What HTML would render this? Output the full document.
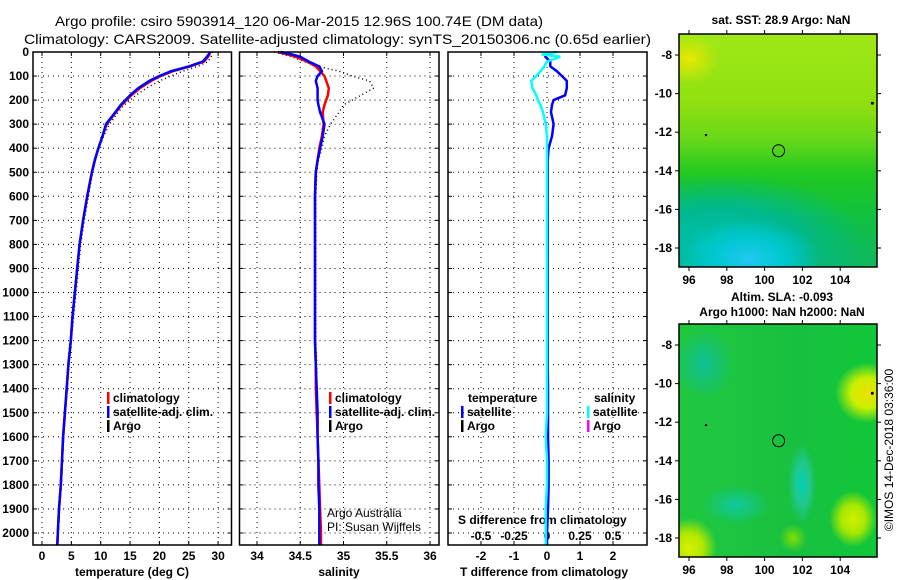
<!DOCTYPE html>
<html><head><meta charset="utf-8"><style>
body{margin:0;background:#fff;width:900px;height:580px;overflow:hidden}
svg text{font-family:"Liberation Sans",sans-serif;font-weight:bold;font-size:12px;fill:#000}
.map{position:absolute;}
</style></head><body>
<div class="map" style="left:679px;top:34px;width:198px;height:233px;background:
radial-gradient(ellipse 70px 40px at 70px 225px,#20c8f0 0%,#00c8d0 50%,rgba(0,200,180,0) 100%),
radial-gradient(ellipse 150px 70px at 40px 210px,#00c0b0 0%,#00b890 50%,rgba(0,176,112,0) 100%),
radial-gradient(ellipse 30px 25px at 10px 25px,#e8e800 0%,rgba(200,230,0,0) 100%),
linear-gradient(to bottom,#a0e818 0%,#90e010 30%,#68d818 45%,#20c820 60%,#10c040 80%,#10b860 100%);"></div>
<div class="map" style="left:679px;top:324px;width:198px;height:233px;background:
radial-gradient(ellipse 32px 30px at 188px 69px,#f0e000 0%,#c8f000 50%,rgba(100,220,0,0) 100%),
radial-gradient(ellipse 24px 28px at 174px 195px,#d0f000 0%,#a8e800 50%,rgba(100,220,0,0) 100%),
radial-gradient(ellipse 28px 30px at 10px 224px,#d8f000 0%,#b0e800 50%,rgba(100,220,0,0) 100%),
radial-gradient(ellipse 14px 14px at 114px 214px,#80e000 0%,rgba(100,220,0,0) 100%),
radial-gradient(ellipse 14px 40px at 123px 160px,#00d0b8 0%,#20c890 50%,rgba(20,190,100,0) 100%),
radial-gradient(ellipse 35px 20px at 57px 181px,#10c8a0 0%,rgba(20,190,100,0) 100%),
radial-gradient(ellipse 30px 35px at 25px 40px,#10c098 0%,rgba(20,190,100,0) 100%),
linear-gradient(to right,#20c840,#18c040 60%,#10c838);"></div>
<svg id="s" width="900" height="580" style="position:absolute;left:0;top:0" xmlns="http://www.w3.org/2000/svg">
<text x="55" y="26" textLength="488" lengthAdjust="spacingAndGlyphs" style="font-weight:normal;font-size:14px">Argo profile: csiro 5903914_120 06-Mar-2015 12.96S 100.74E (DM data)</text>
<text x="24" y="44" textLength="627" lengthAdjust="spacingAndGlyphs" style="font-weight:normal;font-size:14px">Climatology: CARS2009. Satellite-adjusted climatology: synTS_20150306.nc (0.65d earlier)</text>
<g id="g"></g>
<text x="781" y="24" text-anchor="middle">sat. SST: 28.9 Argo: NaN</text>
<text x="782" y="301" text-anchor="middle">Altim. SLA: -0.093</text>
<text x="782" y="316" text-anchor="middle">Argo h1000: NaN h2000: NaN</text>
<text transform="translate(893,450) rotate(-90)" text-anchor="middle" style="font-weight:normal">©IMOS 14-Dec-2018 03:36:00</text>
<text x="327" y="517" style="font-weight:normal">Argo Australia</text>
<text x="327" y="531" style="font-weight:normal">PI: Susan Wijffels</text>
</svg>
<script>
const depths=[0,10,20,40,60,80,100,120,150,180,200,220,250,300,350,400,450,500,600,700,800,900,1000,1100,1200,1300,1400,1500,1600,1700,1800,1900,2000,2050];
const tClim=[28.6,28.5,28.3,27.6,25.2,22.3,20.2,18.6,16.7,15.2,14.4,13.6,12.6,11.0,10.3,9.6,9.0,8.5,7.7,7.0,6.4,6.0,5.6,5.2,4.9,4.5,4.2,3.9,3.6,3.4,3.2,2.9,2.7,2.6];
const tSat=[28.7,28.4,28.1,27.4,25.0,22.0,20.0,18.3,16.4,15.0,14.2,13.4,12.5,10.9,10.3,9.6,9.0,8.5,7.7,7.0,6.4,6.0,5.6,5.2,4.9,4.5,4.2,3.9,3.6,3.4,3.2,2.9,2.7,2.6];
const tArgo=[29.0,29.0,28.8,28.3,26.5,24.0,22.0,20.0,17.8,16.0,15.0,14.0,13.0,11.5,10.5,9.7,9.1,8.6,7.9,7.2,6.6,6.2,5.8,5.4,5.0,4.6,4.3,4.0,3.7,3.5,3.3,3.0,2.8,2.7];
const sClim=[34.24,34.35,34.45,34.58,34.68,34.73,34.78,34.8,34.83,34.82,34.8,34.78,34.76,34.77,34.75,34.72,34.7,34.68,34.67,34.67,34.67,34.67,34.67,34.67,34.67,34.68,34.68,34.69,34.7,34.71,34.72,34.73,34.74,34.74];
const sSat=[34.27,34.4,34.5,34.6,34.72,34.75,34.7,34.68,34.7,34.7,34.7,34.71,34.73,34.78,34.76,34.73,34.7,34.68,34.67,34.67,34.67,34.67,34.67,34.67,34.67,34.68,34.69,34.7,34.7,34.71,34.71,34.72,34.72,34.72];
const sArgo=[34.2,34.3,34.4,34.55,34.7,34.95,35.1,35.3,35.35,35.2,35.1,35.0,34.95,34.85,34.78,34.75,34.71,34.69,34.68,34.68,34.68,34.68,34.68,34.68,34.68,34.69,34.69,34.7,34.7,34.71,34.72,34.73,34.74,34.74];
const tDiff=[0.25,0.0,-0.05,0.1,0.1,0.3,0.45,0.6,0.6,0.55,0.2,0.15,0.12,0.2,0.15,0.05,0.02,0.02,0.02,0.02,0.02,0.02,0.02,0.02,0.02,0.02,0.03,0.03,0.03,0.05,0.05,0.03,0.0,0.0];
const sDiff=[0.08,-0.04,0.1,0.0,-0.02,-0.05,-0.08,-0.12,-0.11,-0.08,-0.07,-0.05,-0.03,-0.01,0.0,0.0,0.0,0.0,0.0,0.0,0.0,0.0,0.0,0.0,0.0,0.0,0.0,0.0,-0.01,0.0,0.0,-0.01,-0.01,-0.01];
const depthTicks=[0,100,200,300,400,500,600,700,800,900,1000,1100,1200,1300,1400,1500,1600,1700,1800,1900,2000];
const tTicks=[0,5,10,15,20,25,30];
const sTicks=[34,34.5,35,35.5,36];
const dTTicks=[-2,-1,0,1,2];
const dSTicks=[-0.5,-0.25,0,0.25,0.5];
const dSLabels=['-0.5','-0.25','0','0.25','0.5'];
const lonTicks=[96,98,100,102,104];
const latTicks=[-8,-10,-12,-14,-16,-18];
const argoLon=100.74, argoLat=-12.96;

const NS='http://www.w3.org/2000/svg';
const G=document.getElementById('g');
function mk(tag,at,txt){const e=document.createElementNS(NS,tag);for(const k in at)e.setAttribute(k,at[k]);if(txt!==undefined)e.textContent=txt;G.appendChild(e);return e;}
const Y=d=>52+d*0.2405;
const xT=v=>42+v*5.87, xS=v=>257+(v-34)*86.5, xDT=v=>547+v*33, xDS=v=>547+v*132;
const panels=[{x0:33,x1:231.5,name:'temperature'},{x0:239.5,x1:439,name:'salinity'},{x0:448,x1:647,name:'difference'}];
const yTop=52,yBot=545;
function vgrid(p,xs,f){xs.forEach(v=>{const l=mk('line',{x1:f(v),x2:f(v),y1:yTop,y2:yBot,stroke:'#000','stroke-width':1,'stroke-dasharray':'1,4'});


mk('line',{x1:f(v),x2:f(v),y1:yTop,y2:yTop+4,stroke:'#000'});mk('line',{x1:f(v),x2:f(v),y1:yBot,y2:yBot-4,stroke:'#000'});});}
panels.forEach(p=>{depthTicks.forEach(d=>{const l=mk('line',{x1:p.x0,x2:p.x1,y1:Y(d),y2:Y(d),stroke:'#000','stroke-dasharray':'1,4'});


mk('line',{x1:p.x0,x2:p.x0+4,y1:Y(d),y2:Y(d),stroke:'#000'});mk('line',{x1:p.x1,x2:p.x1-4,y1:Y(d),y2:Y(d),stroke:'#000'});});});
vgrid(0,tTicks,xT);vgrid(1,sTicks,xS);vgrid(2,dTTicks,xDT);
depthTicks.forEach(d=>{const t=mk('text',{x:29,y:Y(d)+4,'text-anchor':'end'},String(d));

});
function xl(arr,f,lbl){arr.forEach((v,i)=>{const t=mk('text',{x:f(v),y:560,'text-anchor':'middle'},lbl?lbl[i]:String(v));

});}
xl(tTicks,xT);xl(sTicks,xS);xl(dTTicks,xDT);
dSTicks.forEach((v,i)=>{const t=mk('text',{x:xDS(v),y:540,'text-anchor':'middle'},dSLabels[i]);

});
let a=mk('text',{x:458,y:524},'S difference from climatology');


a=mk('text',{x:132,y:576,'text-anchor':'middle'},'temperature (deg C)');


a=mk('text',{x:339,y:576,'text-anchor':'middle'},'salinity');


a=mk('text',{x:544,y:576,'text-anchor':'middle'},'T difference from climatology');


function line(vals,f,col,w,dash,name){const pts=vals.map((v,i)=>f(v).toFixed(1)+','+Y(depths[i]).toFixed(1)).join(' ');
const at={points:pts,fill:'none',stroke:col,'stroke-width':w};if(dash)at['stroke-dasharray']=dash;const e=mk('polyline',at);

}
line(tArgo,xT,'#000',1.5,'1,3','temperature-argo-line');
line(tClim,xT,'#f00',2.5,null,'temperature-climatology-line');
line(tSat,xT,'#00f',2.5,null,'temperature-satellite-line');
line(sArgo,xS,'#000',1.5,'1,3','salinity-argo-line');
line(sClim,xS,'#f00',2.5,null,'salinity-climatology-line');
line(sSat,xS,'#00f',2.5,null,'salinity-satellite-line');
line(tDiff,xDT,'#00f',2.5,null,'t-diff-satellite-line');
line(sDiff,xDS,'#0ff',2.5,null,'s-diff-satellite-line');
panels.forEach(p=>{const r=mk('rect',{x:p.x0,y:yTop,width:p.x1-p.x0,height:yBot-yTop,fill:'none',stroke:'#000','stroke-width':1.5});

});
function leg(x,y,col,txt,name){mk('rect',{x:x,y:y-10,width:2.5,height:12,fill:col});if(txt){const t=mk('text',{x:x+6,y:y},txt);

}}
leg(107,402,'#f00','climatology','legend-climatology');leg(107,416,'#00f','satellite-adj. clim.','legend-satellite');leg(107,430,'#000','Argo','legend-argo');
leg(329,402,'#f00','climatology','legend-climatology-2');leg(329,416,'#00f','satellite-adj. clim.','legend-satellite-2');leg(329,430,'#000','Argo','legend-argo-2');
a=mk('text',{x:468,y:402},'temperature');


a=mk('text',{x:594,y:402},'salinity');


leg(461,416,'#00f','satellite','legend-t-satellite');leg(461,430,'#000','Argo','legend-t-argo');
leg(587,416,'#0ff','satellite','legend-s-satellite');leg(587,430,'#f0f','Argo','legend-s-argo');
const mX=v=>689+(v-96)*18.9;
[{top:34,bot:267,y8:55,name:'sst'},{top:324,bot:557,y8:345,name:'sla'}].forEach(m=>{
const mY=v=>m.y8+(-8-v)*19.3;
const r=mk('rect',{x:679,y:m.top,width:198,height:m.bot-m.top,fill:'none',stroke:'#000','stroke-width':1.5});


lonTicks.forEach(v=>{mk('line',{x1:mX(v),x2:mX(v),y1:m.bot,y2:m.bot+4,stroke:'#000'});mk('line',{x1:mX(v),x2:mX(v),y1:m.top,y2:m.top-4,stroke:'#000'});
const t=mk('text',{x:mX(v),y:m.bot+17,'text-anchor':'middle'},String(v));

});
latTicks.forEach(v=>{mk('line',{x1:679,x2:675,y1:mY(v),y2:mY(v),stroke:'#000'});mk('line',{x1:877,x2:881,y1:mY(v),y2:mY(v),stroke:'#000'});
const t=mk('text',{x:672,y:mY(v)+4,'text-anchor':'end'},String(v));

});
const c=mk('circle',{cx:mX(argoLon),cy:mY(argoLat),r:6,fill:'none',stroke:'#000','stroke-width':1});


mk('circle',{cx:mX(96.9),cy:mY(-12.15),r:1.2,fill:'#000'});mk('circle',{cx:mX(105.7),cy:mY(-10.5),r:1.5,fill:'#000'});
});
</script>
</body></html>
